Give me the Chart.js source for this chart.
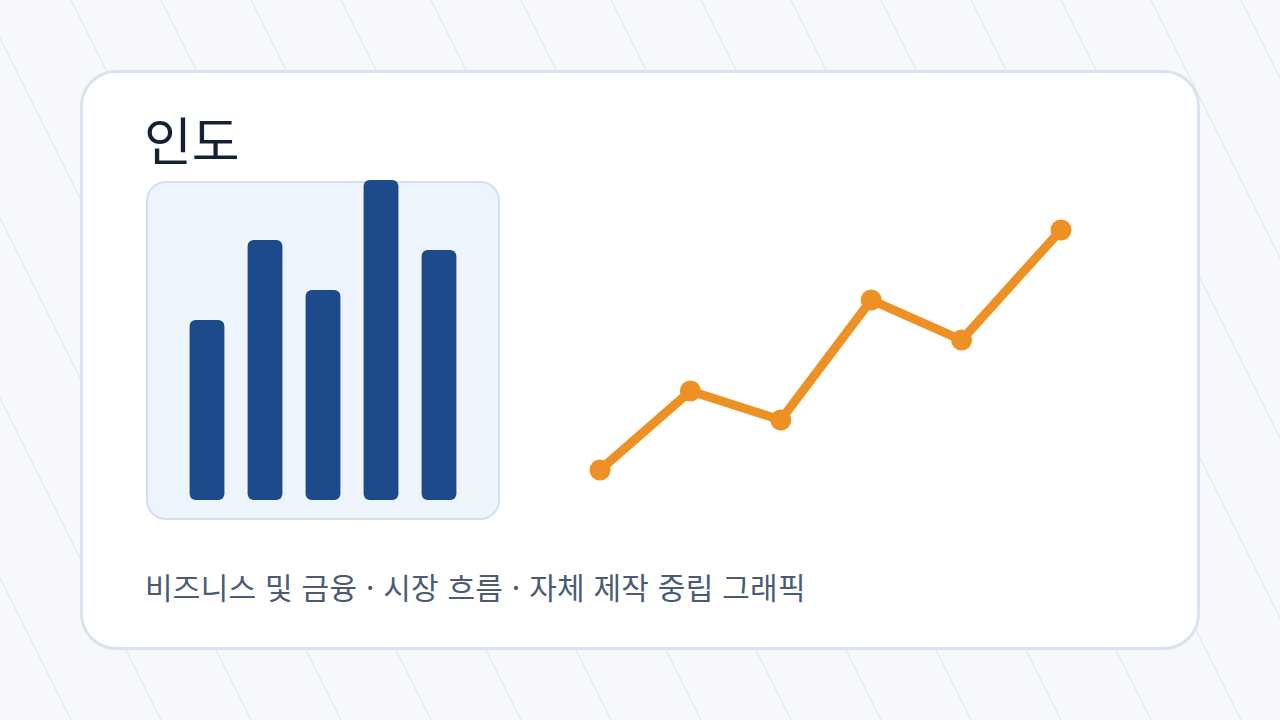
<!DOCTYPE html>
<html lang="ko">
<head>
<meta charset="utf-8">
<title>인도</title>
<script src="https://cdn.jsdelivr.net/npm/chart.js@4/dist/chart.umd.min.js"></script>
<style>
    html, body {
        margin: 0;
        padding: 0;
        width: 1280px;
        height: 720px;
        overflow: hidden;
        background: #f6f8fc;
        font-family: "Noto Sans CJK KR", "Noto Sans", sans-serif;
    }
    #bg {
        position: absolute;
        left: 0;
        top: 0;
    }
    .card {
        position: absolute;
        left: 80px;
        top: 70px;
        width: 1120px;
        height: 580px;
        box-sizing: border-box;
        background: #fff;
        border: 3px solid #d9e2ee;
        border-radius: 36px;
    }
    .title {
        position: absolute;
        left: 144px;
        top: 103px;
        margin: 0;
        font-size: 52px;
        font-weight: 400;
        line-height: 72px;
        color: #152033;
    }
    .panel {
        position: absolute;
        left: 146px;
        top: 181px;
        width: 354px;
        height: 339px;
        box-sizing: border-box;
        background: #edf4fc;
        border: 2px solid #d3deee;
        border-radius: 20px;
    }
    .chartBox {
        position: absolute;
    }
    .caption {
        position: absolute;
        left: 145px;
        top: 567px;
        margin: 0;
        font-size: 30px;
        letter-spacing: 0.25px;
        line-height: 38px;
        color: #4b5b75;
    }
</style>
</head>
<body>
<canvas id="bg" width="1280" height="720"></canvas>
<div class="card"></div>
<h1 class="title">인도</h1>
<div class="panel"></div>
<div class="chartBox" style="left:178px; top:180px; width:290px; height:320px;"><canvas id="barChart"></canvas></div>
<div class="chartBox" style="left:580px; top:210px; width:500px; height:280px;"><canvas id="lineChart"></canvas></div>
<p class="caption">비즈니스 및 금융 · 시장 흐름 · 자체 제작 중립 그래픽</p>

<script>
// bar icon values (left panel)
var barLabels = ['1', '2', '3', '4', '5'];
var barValues = [18, 26, 21, 32, 25];

// trend line values (right side)
var lineX = [0, 1, 2, 3, 4, 5.1];
var lineValues = [24, 55.6, 44, 92, 76, 120];

document.addEventListener('DOMContentLoaded', function () {
    // faint diagonal stripes behind the card
    var bg = document.getElementById('bg').getContext('2d');
    bg.strokeStyle = '#dde4ef';
    bg.lineWidth = 1;
    for (var x0 = -19 - 450; x0 < 1280; x0 += 90) {
        bg.beginPath();
        bg.moveTo(x0, 0);
        bg.lineTo(x0 + 360, 720);
        bg.stroke();
    }

    Chart.defaults.animation = false;
    Chart.defaults.responsive = true;
    Chart.defaults.maintainAspectRatio = false;

    new Chart(document.getElementById('barChart'), {
        type: 'bar',
        data: {
            labels: barLabels,
            datasets: [{
                data: barValues,
                backgroundColor: '#1d4a8b',
                borderRadius: 6,
                borderSkipped: false,
                barPercentage: 0.6,
                categoryPercentage: 1
            }]
        },
        options: {
            layout: { padding: 0 },
            plugins: { legend: { display: false }, tooltip: { enabled: false } },
            scales: {
                x: { display: false },
                y: { display: false, min: 0, max: 32 }
            }
        }
    });

    var points = lineX.map(function (x, i) {
        return { x: x, y: lineValues[i] };
    });

    new Chart(document.getElementById('lineChart'), {
        type: 'line',
        data: {
            datasets: [{
                data: points,
                borderColor: '#ee9124',
                backgroundColor: '#ee9124',
                borderWidth: 9,
                pointRadius: 10.5,
                pointBorderWidth: 0,
                tension: 0,
                clip: false
            }]
        },
        options: {
            layout: { padding: { left: 20, right: 19, top: 20, bottom: 20 } },
            plugins: { legend: { display: false }, tooltip: { enabled: false } },
            scales: {
                x: { type: 'linear', display: false, min: 0, max: 5.1 },
                y: { display: false, min: 24, max: 120 }
            }
        }
    });
});
</script>
</body>
</html>
